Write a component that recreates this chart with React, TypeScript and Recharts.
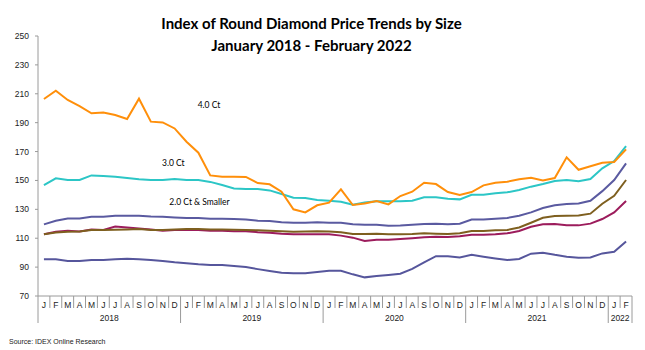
import React from 'react';
import { LineChart, Line, XAxis, YAxis } from 'recharts';

// ---- DATA ----
const months = [
  'J','F','M','A','M','J','J','A','S','O','N','D',
  'J','F','M','A','M','J','J','A','S','O','N','D',
  'J','F','M','A','M','J','J','A','S','O','N','D',
  'J','F','M','A','M','J','J','A','S','O','N','D',
  'J','F',
];
const years = ['2018', '2019', '2020', '2021', '2022'];
const yTicks = [70, 90, 110, 130, 150, 170, 190, 210, 230, 250];

const ct40 = [206.4,212.1,205.7,201.5,196.5,197,195.3,192.5,206.6,190.7,190.2,186,176.8,169.2,153.5,152.6,152.6,152.4,148.2,147.3,142.2,130,127.9,132.8,134.6,143.8,133,134,135.7,133.4,139.2,142.2,148.4,147.5,142,139.9,142,146.6,148.4,149.1,150.8,151.9,150,151.7,166,157.4,159.8,162.3,162.8,171.5];
const ct30 = [146.8,151.5,150.3,150.3,153.5,153,152.6,151.7,150.8,150.3,150.3,151,150.3,150.3,149,146.8,144.5,144,144,143.1,140.6,138,137.8,136.4,135.9,135.2,133.2,134.8,135.6,135.6,135.6,136,138.3,138.3,137.4,136.9,140.1,140.1,141.1,141.8,143.4,145.7,147.5,149.6,150.3,149.4,151,158.4,163.4,173.8];
const sPurple = [119.6,122.1,123.7,123.7,124.9,124.9,125.6,125.6,125.6,125.1,124.9,124.4,124,124,123.5,123.5,123.3,123,122.1,121.9,121,120.7,120.7,121,120.7,120.7,119.6,119.4,119.4,118.6,118.8,119.4,119.8,120,119.6,120,123,123,123.5,124,125.6,127.9,130.9,132.8,133.7,134.1,135.9,142.6,150.3,161.8];
const sOlive = [112.7,114,114.5,114.7,115.7,115.7,115.9,116.1,116.4,115.7,115.7,116.1,116.4,116.4,116.1,116.1,115.9,115.7,115.5,115.2,114.9,114.5,114.7,114.9,114.7,114.2,112.9,112.9,113.1,112.7,112.7,112.9,113.4,113.1,112.9,113.4,115,115,115.5,115.7,117.4,120.7,124.2,125.4,125.6,125.8,127,133.9,139.4,150.3];
const sCrimson = [112.7,114.5,115.2,114.7,116.1,115.7,118.1,117.4,116.8,116.1,115.2,115.7,115.7,115.7,115.2,115.2,114.9,114.9,114.2,113.8,113.1,112.7,112.7,112.7,112.7,111.8,110.4,108.1,109,109,109.5,110,110.6,111,110.8,111.3,112.4,112.4,112.7,113.4,115,117.9,119.6,119.8,118.9,118.9,120.1,123.3,127.9,135.7];
const sNavy = [95.4,95.4,94.2,94.2,94.9,94.9,95.4,95.8,95.4,94.9,94.2,93.3,92.6,91.9,91.5,91.5,90.7,90,88.6,87.3,86.1,85.7,85.7,86.6,87.5,87.5,85,82.9,83.8,84.6,85.4,88.8,93.3,97.6,97.6,96.7,98.5,97.2,96,94.9,95.6,99.3,100,98.5,97.2,96.5,96.7,99.5,100.6,107.8];

const data = months.map((m, i) => ({
  month: m,
  ct40: ct40[i],
  ct30: ct30[i],
  purple: sPurple[i],
  olive: sOlive[i],
  crimson: sCrimson[i],
  navy: sNavy[i],
}));

// ---- LAYOUT ----
const W = 645;
const H = 350;
const Y_W = 38;
const M_RIGHT = 13;
const M_TOP = 36;
const X_H = 30;
const M_BOTTOM = 24;
const AXIS_Y = H - M_BOTTOM - X_H;
const PLOT_W = W - Y_W - M_RIGHT;
const STEP = PLOT_W / months.length;
const AXIS_COLOR = '#9a9a9a';
const TEXT_COLOR = '#222';

const MonthTick = (props: any) => {
  const { x, payload, index } = props;
  const i = index as number;
  const left = x - STEP / 2;
  const yearStart = i % 12 === 0;
  const last = i === months.length - 1;
  const yearIdx = Math.floor(i / 12);
  const showYear = i % 12 === 5 || (yearIdx === 4 && i === 48);
  return (
    <g>
      <line x1={left} x2={left} y1={AXIS_Y} y2={AXIS_Y + (yearStart ? 27 : 12)} stroke={AXIS_COLOR} strokeWidth={1} />
      {last && (
        <line x1={x + STEP / 2} x2={x + STEP / 2} y1={AXIS_Y} y2={AXIS_Y + 27} stroke={AXIS_COLOR} strokeWidth={1} />
      )}
      <text x={x} y={AXIS_Y + 11.5} textAnchor="middle" fontSize={8.5} fontFamily="Arial, 'Liberation Sans', sans-serif" fill={TEXT_COLOR}>
        {payload.value}
      </text>
      {showYear && (
        <text x={x + STEP / 2} y={AXIS_Y + 24.5} textAnchor="middle" fontSize={8.5} fontFamily="Arial, 'Liberation Sans', sans-serif" fill={TEXT_COLOR}>
          {years[yearIdx]}
        </text>
      )}
    </g>
  );
};

const series = [
  { key: 'navy', color: '#56569c' },
  { key: 'crimson', color: '#9c1c5c' },
  { key: 'olive', color: '#7e5f1f' },
  { key: 'purple', color: '#5a5aa0' },
  { key: 'ct30', color: '#2cc6c6' },
  { key: 'ct40', color: '#ff8f0a' },
];

export default function App() {
  return (
    <div style={{ position: 'absolute', left: 0, top: 0, width: W, height: H, background: '#fff' }}>
      <LineChart
        width={W}
        height={H}
        data={data}
        margin={{ top: M_TOP, right: M_RIGHT, bottom: M_BOTTOM, left: 0 }}
      >
        <XAxis
          dataKey="month"
          interval={0}
          height={X_H}
          tickLine={false}
          tickSize={0}
          axisLine={{ stroke: AXIS_COLOR }}
          padding={{ left: STEP / 2, right: STEP / 2 }}
          tick={<MonthTick />}
        />
        <YAxis
          width={Y_W}
          domain={[70, 250]}
          ticks={yTicks}
          interval={0}
          axisLine={{ stroke: AXIS_COLOR }}
          tickLine={{ stroke: AXIS_COLOR }}
          tickSize={3}
          tickMargin={6}
          tick={{ fontSize: 8.5, fill: TEXT_COLOR, fontFamily: "Arial, 'Liberation Sans', sans-serif" }}
        />
        {series.map((s) => (
          <Line
            key={s.key}
            type="linear"
            dataKey={s.key}
            stroke={s.color}
            strokeWidth={2}
            dot={false}
            activeDot={false}
            isAnimationActive={false}
          />
        ))}
      </LineChart>
      <svg width={W} height={H} style={{ position: 'absolute', left: 0, top: 0, pointerEvents: 'none' }}>
        <text x={311.5} y={29} textAnchor="middle" fontSize={15} fontWeight="bold" fontFamily="Lato, 'Open Sans', sans-serif" fill="#000">
          Index of Round Diamond Price Trends by Size
        </text>
        <text x={311.5} y={50.5} textAnchor="middle" fontSize={15} fontWeight="bold" fontFamily="Lato, 'Open Sans', sans-serif" fill="#000">
          January 2018 - February 2022
        </text>
        <text x={197.7} y={108} fontSize={8.5} fontFamily="Lato, sans-serif" fill="#000">4.0 Ct</text>
        <text x={162} y={165.7} fontSize={8.5} fontFamily="Lato, sans-serif" fill="#000">3.0 Ct</text>
        <text x={169.3} y={205} fontSize={8.5} fontFamily="Lato, sans-serif" fill="#000">2.0 Ct &amp; Smaller</text>
        <text x={9} y={344} fontSize={7} fontFamily="Arial, 'Liberation Sans', sans-serif" fill={TEXT_COLOR}>
          Source:  IDEX Online  Research
        </text>
      </svg>
    </div>
  );
}
